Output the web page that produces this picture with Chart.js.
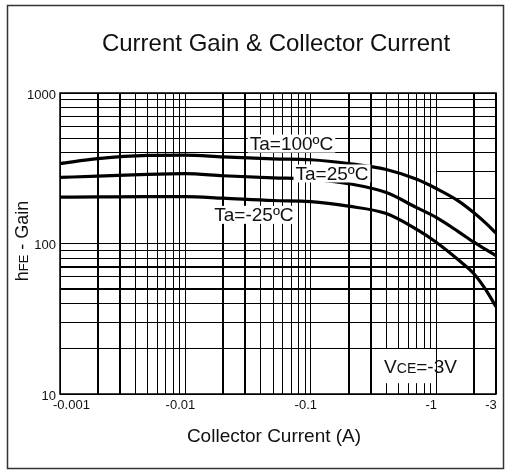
<!DOCTYPE html>
<html><head><meta charset="utf-8">
<script src="https://cdn.jsdelivr.net/npm/chart.js@4/dist/chart.umd.min.js"></script>
<style>
html,body{margin:0;padding:0;background:#fff;}
#wrap{position:relative;width:511px;height:471px;}
</style></head>
<body><div id="wrap"><canvas id="c" width="511" height="471"></canvas></div>
<script>
// ---- data ----
const titleText = "Current Gain & Collector Current";
const xTitleText = "Collector Current (A)";
const currentA = [0.001, 0.002, 0.005, 0.01, 0.02, 0.05, 0.1, 0.2, 0.4, 0.7, 1.0, 1.5, 2.0, 2.5, 3.0];
const gain100  = [340, 366, 385, 387, 376, 365, 360, 340, 310, 267, 232, 192, 160, 136, 117];
const gain25   = [275, 280, 288, 291, 282, 273, 268, 250, 218, 173, 149, 120, 102, 91, 83];
const gainM25  = [203, 204, 205, 205, 200, 193, 190, 177, 158, 124, 102, 78, 63, 49, 38];
const seriesNames = ["Ta=100ºC", "Ta=25ºC", "Ta=-25ºC"];
const xTickValues = [0.001, 0.01, 0.1, 1, 3];
const xTickLabels = ["-0.001", "-0.01", "-0.1", "-1", "-3"];
const yTickValues = [10, 100, 1000];
const yTickLabels = ["10", "100", "1000"];

// grid values (log decades with 1..9 multiples)
const xGrid = [];
[0.001, 0.01, 0.1, 1].forEach(d => { for (let m = 1; m <= 9; m++) { const v = +(d * m).toPrecision(6); if (v <= 3) xGrid.push([v, m]); } });
const yGrid = [];
[10, 100].forEach(d => { for (let m = 1; m <= 9; m++) yGrid.push([d * m, m]); });
yGrid.push([1000, 1]);

// annotation anchors (data units)
const curveLabelAt = [[0.0702, 461], [0.1476, 292], [0.0352, 155]];
const vceAt = [0.75, 15.3];
const vceBox = { x0: 0.3, x1: 1.0, y0: 11.8, y1: 20 };
const partialLinesFrom = { 200: 1.0, 300: 1.0 };

const FONT = "'Liberation Sans', Arial, Helvetica, sans-serif";
const INK = '#111';

const sheet = {
  id: 'sheet',
  beforeDraw(chart) {
    const ctx = chart.ctx, xs = chart.scales.x, ys = chart.scales.y, a = chart.chartArea;
    ctx.save();
    ctx.fillStyle = '#fff';
    ctx.fillRect(0, 0, chart.width, chart.height);
    // outer frame
    ctx.strokeStyle = '#333'; ctx.lineWidth = 1.5;
    ctx.strokeRect(7.5, 5.5, 496, 463);
    // title
    ctx.fillStyle = INK; ctx.font = '24px ' + FONT;
    ctx.textAlign = 'center'; ctx.textBaseline = 'middle';
    ctx.fillText(titleText, 276, 44);

    ctx.strokeStyle = '#000';
    const boxTop = ys.getPixelForValue(vceBox.y1), boxBot = ys.getPixelForValue(vceBox.y0);
    const bx0 = xs.getPixelForValue(vceBox.x0), bx1 = xs.getPixelForValue(vceBox.x1);
    // vertical grid
    xGrid.forEach(([v, m]) => {
      const lw = (m === 2 || m === 3) ? 2 : 1;
      let px = xs.getPixelForValue(v);
      px = lw === 1 ? Math.floor(px) + 0.5 : Math.round(px);
      ctx.lineWidth = lw;
      ctx.beginPath();
      if (px > bx0 + 2 && px < bx1 - 2) {
        ctx.moveTo(px, a.bottom); ctx.lineTo(px, boxBot);
        ctx.moveTo(px, boxTop); ctx.lineTo(px, a.top);
      } else {
        ctx.moveTo(px, a.bottom); ctx.lineTo(px, a.top);
      }
      ctx.stroke();
    });
    // horizontal grid
    yGrid.forEach(([v, m]) => {
      const lw = (v === 50 || v === 70) ? 2 : 1;
      let py = ys.getPixelForValue(v);
      py = lw === 1 ? Math.floor(py) + 0.5 : Math.round(py);
      ctx.lineWidth = lw;
      let x0 = a.left;
      if (partialLinesFrom[v] !== undefined) x0 = xs.getPixelForValue(partialLinesFrom[v]);
      ctx.beginPath(); ctx.moveTo(x0, py); ctx.lineTo(a.right, py); ctx.stroke();
    });
    ctx.restore();
  },
  afterDatasetsDraw(chart) {
    const ctx = chart.ctx, xs = chart.scales.x, ys = chart.scales.y, a = chart.chartArea;
    ctx.save();
    // plot border
    ctx.strokeStyle = '#000'; ctx.lineWidth = 1.5;
    ctx.strokeRect(a.left, a.top, a.right - a.left, a.bottom - a.top);

    // curve labels with white backing
    ctx.font = '19px ' + FONT; ctx.textBaseline = 'middle'; ctx.textAlign = 'center';
    seriesNames.forEach((t, i) => {
      const px = xs.getPixelForValue(curveLabelAt[i][0]);
      const py = ys.getPixelForValue(curveLabelAt[i][1]);
      const w = ctx.measureText(t).width;
      ctx.fillStyle = '#fff';
      ctx.fillRect(px - w / 2 - 2, py - 9, w + 4, 18);
      ctx.fillStyle = INK;
      ctx.fillText(t, px, py + 1);
    });

    // VCE label
    {
      const px = xs.getPixelForValue(vceAt[0]), py = ys.getPixelForValue(vceAt[1]);
      const parts = [['V', '19px '], ['CE', '14px '], ['=-3V', '19px ']];
      let w = 0;
      parts.forEach(p => { ctx.font = p[1] + FONT; w += ctx.measureText(p[0]).width; });
      let cx = px - w / 2;
      ctx.fillStyle = INK; ctx.textAlign = 'left'; ctx.textBaseline = 'alphabetic';
      parts.forEach(p => { ctx.font = p[1] + FONT; ctx.fillText(p[0], cx, py + 7); cx += ctx.measureText(p[0]).width; });
    }

    // y tick labels
    ctx.font = '13px ' + FONT; ctx.fillStyle = INK;
    ctx.textAlign = 'right'; ctx.textBaseline = 'middle';
    yTickValues.forEach((v, i) => {
      const py = ys.getPixelForValue(v);
      ctx.fillText(yTickLabels[i], a.left - 4, py + 2);
    });
    // x tick labels
    xTickValues.forEach((v, i) => {
      const px = xs.getPixelForValue(v);
      if (i === 0) { ctx.textAlign = 'left'; ctx.fillText(xTickLabels[i], px - 7, a.bottom + 11); }
      else { ctx.textAlign = 'center'; ctx.fillText(xTickLabels[i], px - 5, a.bottom + 11); }
    });

    // x axis title
    ctx.font = '19px ' + FONT; ctx.textAlign = 'center'; ctx.textBaseline = 'middle';
    ctx.fillText(xTitleText, 274, 437);

    // y axis title: h FE - Gain (rotated)
    {
      const parts = [['h', '18px '], ['FE', '13px '], [' - Gain', '18px ']];
      let w = 0;
      parts.forEach(p => { ctx.font = p[1] + FONT; w += ctx.measureText(p[0]).width; });
      ctx.translate(28, 241); ctx.rotate(-Math.PI / 2);
      let cx = -w / 2;
      ctx.textAlign = 'left'; ctx.textBaseline = 'alphabetic';
      parts.forEach(p => { ctx.font = p[1] + FONT; ctx.fillText(p[0], cx, 0); cx += ctx.measureText(p[0]).width; });
    }
    ctx.restore();
  }
};

const mk = (arr) => currentA.map((c, i) => ({ x: c, y: arr[i] }));
const ds = (label, arr) => ({
  label, data: mk(arr), showLine: true, borderColor: '#000', borderWidth: 3.2,
  pointRadius: 0, pointHoverRadius: 0, cubicInterpolationMode: 'monotone', fill: false
});

new Chart(document.getElementById('c'), {
  type: 'scatter',
  data: { datasets: [ds(seriesNames[0], gain100), ds(seriesNames[1], gain25), ds(seriesNames[2], gainM25)] },
  options: {
    responsive: false, animation: false, devicePixelRatio: 1,
    layout: { padding: { left: 60, right: 15, top: 93, bottom: 77 } },
    scales: {
      x: { type: 'logarithmic', min: 0.001, max: 3, display: false },
      y: { type: 'logarithmic', min: 10, max: 1000, display: false }
    },
    plugins: { legend: { display: false }, title: { display: false }, tooltip: { enabled: false } }
  },
  plugins: [sheet]
});
</script>
</body></html>
